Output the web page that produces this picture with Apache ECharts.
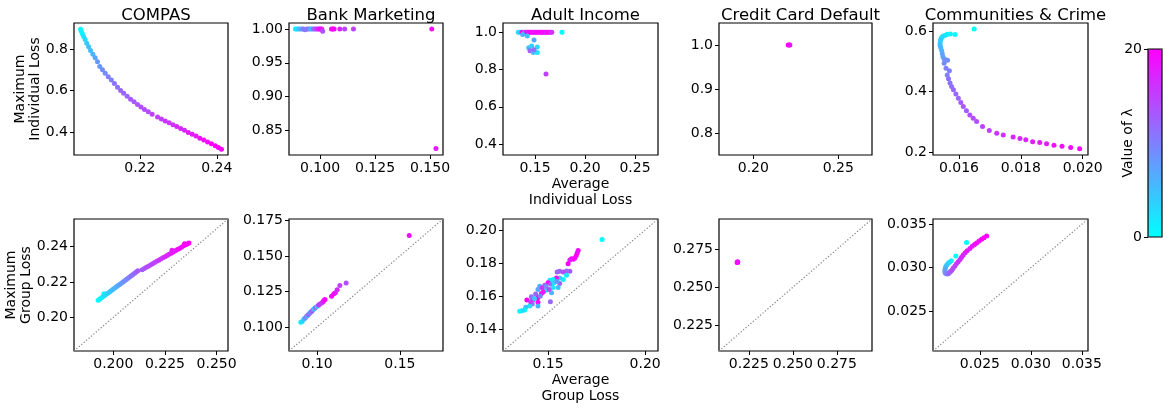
<!DOCTYPE html>
<html><head><meta charset="utf-8">
<script src="https://cdn.jsdelivr.net/npm/echarts@6/dist/echarts.min.js"></script>
<style>html,body{margin:0;padding:0;background:#fff}#c{width:1167px;height:408px}</style>
</head><body><div id="c"></div>
<script>
// ---------------- DATA ----------------
const titles = ['COMPAS', 'Bank Marketing', 'Adult Income', 'Credit Card Default', 'Communities & Crime'];

// each point: [average loss, maximum loss, lambda]
const compasIndividual = [
 [0.2046,0.895,0],[0.2048,0.885,1],[0.2051,0.872,1],[0.2054,0.860,2],[0.2058,0.845,3],[0.2062,0.828,4],
 [0.2067,0.810,5],[0.2072,0.793,5],[0.2078,0.775,6],[0.2084,0.757,7],[0.2090,0.738,8],[0.2096,0.716,8],
 [0.2103,0.700,9],[0.2110,0.683,9],[0.2118,0.666,10],[0.2126,0.650,10],[0.2134,0.633,11],[0.2142,0.615,11],
 [0.2150,0.600,12],[0.2158,0.586,12],[0.2167,0.572,12],[0.2176,0.558,13],[0.2185,0.545,13],[0.2194,0.532,13],
 [0.2203,0.520,14],[0.2212,0.508,14],[0.2222,0.497,14],[0.2232,0.485,15],[0.2246,0.472,15],[0.2256,0.463,15],
 [0.2266,0.453,16],[0.2276,0.444,16],[0.2286,0.435,16],[0.2296,0.426,17],[0.2306,0.417,17],[0.2316,0.408,17],
 [0.2326,0.398,18],[0.2336,0.389,18],[0.2346,0.380,18],[0.2356,0.370,19],[0.2366,0.361,19],[0.2376,0.352,19],
 [0.2386,0.343,20],[0.2396,0.333,20],[0.2404,0.325,20],[0.2412,0.317,20]
];
const bankIndividual = [
 [0.0888,1.0,1],[0.0895,1.0,2],[0.0902,1.0,4],[0.0910,1.0,6],[0.0918,1.0,8],[0.0925,1.0,10],[0.0932,0.999,11],
 [0.0940,1.0,9],[0.0948,1.0,12],[0.0955,1.0,7],[0.0962,1.0,5],[0.0970,1.0,11],[0.0978,1.0,13],[0.0985,1.0,15],
 [0.0992,1.0,17],[0.0998,1.0,19],[0.1003,1.0,20],[0.1008,1.0,18],[0.1012,0.9965,14],[0.1052,1.0,20],
 [0.1058,1.0,19],[0.1064,1.0,20],[0.1090,1.0,17],[0.1112,1.0,15],[0.1152,1.0,15],[0.1508,1.0,19],[0.1527,0.8235,18]
];
const adultIndividual = [
 [0.1333,1.0,3],[0.1345,1.0,2],[0.1360,1.0,5],[0.1372,1.0,20],[0.1385,1.0,19],[0.1398,1.0,7],[0.1410,1.0,18],
 [0.1422,1.0,20],[0.1435,1.0,16],[0.1448,1.0,20],[0.1460,1.0,19],[0.1475,1.0,20],[0.1490,1.0,17],[0.1505,1.0,20],
 [0.1520,1.0,19],[0.1535,1.0,20],[0.1550,1.0,18],[0.1565,1.0,20],[0.1580,1.0,19],[0.1595,1.0,20],[0.1610,1.0,17],
 [0.1625,1.0,20],[0.1640,1.0,19],[0.1655,1.0,18],[0.1668,1.0,16],[0.1770,1.0,0],
 [0.1377,0.988,6],[0.1423,0.980,5],[0.1490,0.959,7],[0.1437,0.917,5],[0.1467,0.926,4],[0.1450,0.901,12],
 [0.1483,0.892,5],[0.1523,0.921,3],[0.1523,0.892,2],[0.1490,0.906,11],[0.1610,0.776,15]
];
const creditIndividual = [[0.2205,1.0,20],[0.2210,1.0,20],[0.2215,1.0,19]];
const crimeIndividual = [
 [0.01649,0.6066,0],[0.01587,0.588,0],[0.01572,0.590,1],[0.01562,0.589,1],[0.01556,0.586,2],[0.01549,0.5835,2],
 [0.01545,0.579,3],[0.01542,0.575,3],[0.01540,0.568,4],[0.01539,0.560,4],[0.01539,0.553,5],[0.01541,0.545,6],
 [0.01544,0.535,6],[0.01546,0.525,7],[0.01548,0.515,7],[0.01552,0.507,8],[0.01558,0.504,9],[0.01563,0.503,9],
 [0.01552,0.493,9],[0.01558,0.477,10],[0.01569,0.469,10],[0.01562,0.455,10],[0.01566,0.442,11],[0.01571,0.428,11],
 [0.01576,0.417,11],[0.01582,0.406,12],[0.01590,0.392,12],[0.01598,0.378,12],[0.01606,0.364,13],[0.01614,0.351,13],
 [0.01624,0.337,13],[0.01635,0.323,14],[0.01646,0.312,14],[0.01657,0.301,14],[0.01676,0.285,15],[0.01698,0.272,15],
 [0.01722,0.263,16],[0.01743,0.257,16],[0.01775,0.250,17],[0.01797,0.245,17],[0.01816,0.241,17],[0.01838,0.235,18],
 [0.01861,0.232,18],[0.01883,0.228,18],[0.01907,0.2234,19],[0.01933,0.220,19],[0.01961,0.2156,19],[0.0199,0.2112,20]
];
const compasGroup = [
 [0.1927,0.2096,0],[0.1935,0.2103,1],[0.1943,0.2110,1],[0.1951,0.2117,2],[0.1955,0.2133,0],[0.1959,0.2124,3],
 [0.1967,0.2131,3],[0.1975,0.2138,4],[0.1983,0.2145,4],[0.1991,0.2152,5],[0.1999,0.2159,5],[0.2007,0.2166,6],
 [0.2015,0.2172,6],[0.2023,0.2179,7],[0.2031,0.2186,7],[0.2039,0.2193,8],[0.2047,0.2200,8],[0.2055,0.2207,9],
 [0.2063,0.2214,9],[0.2071,0.2221,10],[0.2079,0.2228,10],[0.2087,0.2235,11],[0.2095,0.2242,11],[0.2103,0.2249,12],
 [0.2111,0.2256,12],[0.2119,0.2263,13],[0.2140,0.2268,13],[0.2150,0.2275,13],[0.2160,0.2282,14],[0.2170,0.2289,14],
 [0.2180,0.2295,14],[0.2190,0.2302,15],[0.2200,0.2309,15],[0.2210,0.2316,15],[0.2220,0.2322,16],[0.2230,0.2329,16],
 [0.2240,0.2336,16],[0.2250,0.2342,17],[0.2260,0.2349,17],[0.2270,0.2356,17],[0.2280,0.2362,18],[0.2284,0.2378,18],
 [0.2290,0.2369,18],[0.2300,0.2376,18],[0.2310,0.2383,19],[0.2320,0.2389,19],[0.2330,0.2396,19],[0.2340,0.2404,19],
 [0.2345,0.2415,20],[0.2350,0.2410,20],[0.2358,0.2414,20],[0.2366,0.2419,20]
];
const bankGroup = [
 [0.0901,0.1032,1],[0.0910,0.1038,3],[0.0920,0.1056,5],[0.0928,0.1062,8],[0.0936,0.1074,10],[0.0942,0.1080,6],
 [0.0948,0.1088,12],[0.0956,0.1098,11],[0.0962,0.1104,7],[0.0968,0.1110,13],[0.0976,0.1121,9],[0.0984,0.1130,4],
 [0.0990,0.1136,12],[0.1000,0.1145,2],[0.1008,0.1152,14],[0.1015,0.1160,16],[0.1027,0.1168,15],[0.1035,0.1176,17],
 [0.1040,0.1185,19],[0.1047,0.1192,20],[0.1087,0.1215,19],[0.1101,0.1234,20],[0.1110,0.1240,18],[0.1121,0.1262,17],
 [0.1137,0.1292,15],[0.1175,0.1309,14],[0.1556,0.1643,19]
];
const adultGroup = [
 [0.1778,0.1942,0],[0.1655,0.1876,20],[0.1650,0.1860,19],[0.1645,0.1845,20],[0.1638,0.1830,20],[0.1630,0.1822,19],
 [0.1621,0.1826,20],[0.1612,0.1818,18],[0.1603,0.1796,20],[0.1612,0.1750,13],[0.1595,0.1752,12],[0.1578,0.1746,14],
 [0.1560,0.1750,13],[0.1547,0.1746,12],[0.1595,0.1726,2],[0.1578,0.1700,1],[0.1560,0.1710,4],[0.1543,0.1710,19],
 [0.1535,0.1686,6],[0.1526,0.1700,1],[0.1509,0.1696,2],[0.1500,0.1680,20],[0.1515,0.1672,11],[0.1560,0.1676,12],
 [0.1483,0.1666,13],[0.1457,0.1660,6],[0.1448,0.1640,7],[0.1526,0.1652,2],[0.1552,0.1652,5],[0.1518,0.1620,6],
 [0.1488,0.1636,1],[0.1466,0.1616,20],[0.1436,0.1612,12],[0.1414,0.1596,11],[0.1391,0.1576,20],[0.1422,0.1576,13],
 [0.1448,0.1590,19],[0.1448,0.1562,20],[0.1448,0.1540,6],[0.1419,0.1552,9],[0.1405,0.1540,2],[0.1385,0.1532,5],
 [0.1380,0.1516,1],[0.1365,0.1512,3],[0.1354,0.1508,1],[0.1512,0.1566,12],[0.1470,0.1650,16],[0.1490,0.1660,9],
 [0.1505,0.1640,14],[0.1530,0.1680,3],[0.1545,0.1690,8],[0.1475,0.1625,18],[0.1430,0.1585,4],[0.1460,0.1600,10],
 [0.1410,0.1565,15]
];
const creditGroup = [[0.2183,0.2663,20],[0.2187,0.2665,20],[0.2185,0.2668,19]];
const crimeGroup = [
 [0.02369,0.0329,0],[0.02264,0.03134,0],[0.02220,0.0308,1],[0.02205,0.03065,2],[0.02188,0.0305,3],[0.02175,0.0303,4],
 [0.02165,0.03011,5],[0.02160,0.0299,6],[0.02156,0.02966,7],[0.02158,0.02945,8],[0.02165,0.02932,9],[0.02178,0.02926,10],
 [0.02190,0.0293,11],[0.02200,0.0294,12],[0.02212,0.02955,13],[0.02225,0.0297,14],[0.02237,0.02993,14],[0.02255,0.0302,15],
 [0.02270,0.03045,15],[0.02287,0.03068,16],[0.02305,0.03095,16],[0.02320,0.0312,17],[0.02336,0.03145,17],[0.02355,0.0317,17],
 [0.02375,0.03195,18],[0.02402,0.03221,18],[0.02425,0.03245,18],[0.02448,0.03265,19],[0.02468,0.03285,19],[0.02492,0.03306,19],
 [0.02517,0.03327,20],[0.02540,0.03345,20],[0.02566,0.03365,20]
];

// axis limits and ticks (top row: individual loss, bottom row: group loss)
const xLimits = [[0.2029,0.2429],[0.0859,0.1559],[0.118,0.273],[0.1798,0.2698],[0.01516,0.02017],
                 [0.181,0.2555],[0.083,0.176],[0.1268,0.2066],[0.208,0.295],[0.0204,0.0356]];
const yLimits = [[0.289,0.925],[0.814,1.0088],[0.341,1.05],[0.751,1.0498],[0.191,0.626],
                 [0.181,0.2555],[0.083,0.176],[0.1268,0.2066],[0.208,0.295],[0.0204,0.0356]];
const xTicks = [[0.22,0.24],[0.100,0.125,0.150],[0.15,0.20,0.25],[0.20,0.25],[0.016,0.018,0.020],
                [0.200,0.225,0.250],[0.10,0.15],[0.15,0.20],[0.225,0.250,0.275],[0.025,0.030,0.035]];
const yTicks = [[0.4,0.6,0.8],[0.85,0.90,0.95,1.00],[0.4,0.6,0.8,1.0],[0.8,0.9,1.0],[0.2,0.4,0.6],
                [0.20,0.22,0.24],[0.100,0.125,0.150,0.175],[0.14,0.16,0.18,0.20],[0.225,0.250,0.275],[0.025,0.030,0.035]];
const xDecimals = [2,3,2,2,3, 3,2,2,3,3];
const yDecimals = [1,2,1,1,1, 2,3,2,3,3];
const lambdaRange = [0, 20];
const lambdaTicks = [0, 20];

const panelData = [compasIndividual, bankIndividual, adultIndividual, creditIndividual, crimeIndividual,
                   compasGroup, bankGroup, adultGroup, creditGroup, crimeGroup];

// ---------------- LAYOUT ----------------
const FONT = 'DejaVu Sans';
const colLeft = [74, 289, 503, 719, 933];
const colWidth = [154, 154, 155, 153, 155];
const rowTop = [23, 219];
const plotH = 132;

const grid = [], xAxis = [], yAxis = [], series = [], title = [];
const axisFont = {color:'#000', fontSize:14, fontFamily:FONT};

for (let i = 0; i < 10; i++) {
  const r = Math.floor(i / 5), c = i % 5;
  grid.push({left: colLeft[c], top: rowTop[r], width: colWidth[c], height: plotH,
             show: true, borderColor: '#000', borderWidth: 1.2, backgroundColor: 'transparent'});
  const xd = xDecimals[i], yd = yDecimals[i];
  const xa = {type:'value', gridIndex:i, min:xLimits[i][0], max:xLimits[i][1],
    axisLine:{show:false}, splitLine:{show:false},
    axisTick:{show:true, customValues:xTicks[i], length:4, lineStyle:{color:'#000', width:1}},
    axisLabel:Object.assign({customValues:xTicks[i], margin:6, formatter:v=>Number(v).toFixed(xd)}, axisFont)};
  const ya = {type:'value', gridIndex:i, min:yLimits[i][0], max:yLimits[i][1],
    axisLine:{show:false}, splitLine:{show:false},
    axisTick:{show:true, customValues:yTicks[i], length:4, lineStyle:{color:'#000', width:1}},
    axisLabel:Object.assign({customValues:yTicks[i], margin:6, formatter:v=>Number(v).toFixed(yd)}, axisFont)};
  if (c === 2) {
    xa.name = r === 0 ? 'Average\nIndividual Loss' : 'Average\nGroup Loss';
    xa.nameLocation = 'middle'; xa.nameGap = 21; xa.nameMoveOverlap = false;
    xa.nameTextStyle = Object.assign({lineHeight:16}, axisFont);
  }
  if (c === 0) {
    ya.name = r === 0 ? 'Maximum\nIndividual Loss' : 'Maximum\nGroup Loss';
    ya.nameLocation = 'middle'; ya.nameRotate = 90; ya.nameGap = r === 0 ? 31 : 40;
    ya.nameMoveOverlap = false;
    ya.nameTextStyle = Object.assign({lineHeight:15}, axisFont);
  }
  xAxis.push(xa); yAxis.push(ya);
  series.push({type:'scatter', xAxisIndex:i, yAxisIndex:i, data:panelData[i], symbolSize:5,
               itemStyle:{opacity:1}, silent:true, z:3});
}
// diagonal reference lines (bottom row)
for (let i = 5; i < 10; i++) {
  series.push({type:'line', xAxisIndex:i, yAxisIndex:i, silent:true, symbol:'none', z:2,
    data:[[xLimits[i][0], yLimits[i][0]], [xLimits[i][1], yLimits[i][1]]],
    lineStyle:{color:'#808080', width:1.2, type:[1.2, 2]}});
}
// colorbar axis
grid.push({left:1148, top:49, width:14, height:188, show:true, borderColor:'#000', borderWidth:1.2,
           backgroundColor:'transparent', z:10});
xAxis.push({type:'value', gridIndex:10, min:0, max:1, show:false});
yAxis.push({type:'value', gridIndex:10, min:lambdaRange[0], max:lambdaRange[1], position:'left',
  axisLine:{show:false}, splitLine:{show:false},
  axisTick:{show:true, customValues:lambdaTicks, length:4, lineStyle:{color:'#000'}},
  axisLabel:Object.assign({customValues:lambdaTicks, margin:6}, axisFont),
  name:'Value of λ', nameLocation:'middle', nameRotate:90, nameGap:13, nameMoveOverlap:false,
  nameTextStyle:Object.assign({}, axisFont)});

for (let c = 0; c < 5; c++) {
  title.push({text: titles[c], left: colLeft[c] + colWidth[c] / 2, top: 2, textAlign: 'center',
    textStyle:{fontSize:16.5, fontWeight:'normal', color:'#000', fontFamily:FONT}});
}

const chart = echarts.init(document.getElementById('c'), null, {renderer:'canvas'});
chart.setOption({
  animation:false, backgroundColor:'#fff', title, grid, xAxis, yAxis, series,
  visualMap:{type:'continuous', min:lambdaRange[0], max:lambdaRange[1], dimension:2,
    seriesIndex:[0,1,2,3,4,5,6,7,8,9], inRange:{color:['#00ffff','#ff00ff']},
    orient:'vertical', left:1148, top:49, itemWidth:14, itemHeight:188, padding:0,
    calculable:false, hoverLink:false, text:null, showLabel:false, z:5}
});
</script></body></html>
